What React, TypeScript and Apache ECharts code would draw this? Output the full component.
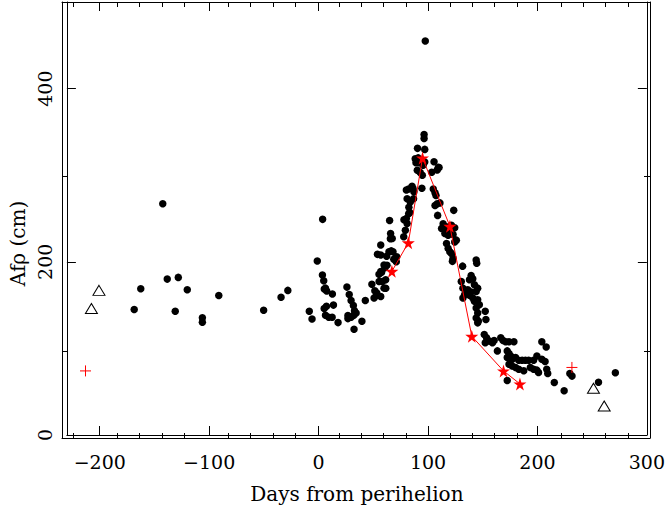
import React, { useEffect, useRef } from "react";
import * as echarts from "echarts";

// Comet photometry: Afρ (cm) vs days from perihelion
const dotPoints: [number, number][] = [
  [-168.5, 145], [-162.5, 168.8], [-142.4, 267], [-138.3, 180], [-131, 142.8], [-128.2, 182],
  [-120, 167.8], [-106.2, 135.3], [-106.2, 130.3], [-91.2, 161], [-50.2, 144], [-34.3, 159], [-28.1, 167],
  [-8.5, 142.8], [-6, 134], [-1.2, 201], [3.7, 249], [3.5, 184.8], [4.7, 178], [5.2, 168.5], [6.3, 169.6],
  [7.4, 166.2], [12.6, 162.8], [5.1, 146], [7.2, 148.6], [6.3, 138.3], [9.3, 136], [13.6, 150], [12.4, 136],
  [17.8, 129.8], [25.9, 170.8], [28, 162.2], [29.7, 155.4], [31.8, 149.6], [32.8, 143.6], [26.8, 137.9],
  [26.8, 134.4], [29.7, 136], [32.2, 138.3], [34.3, 141], [32.4, 122.2], [39.6, 131.4], [42.7, 155.3],
  [48.7, 174], [50.7, 158.2], [51.4, 166.5], [52.8, 161], [53.2, 164], [53.8, 208.6], [55.3, 177.3],
  [55.2, 185.6], [56.8, 219.3], [56.8, 207.8], [56.8, 188.8], [56.8, 160], [57.6, 188], [58.3, 177.3],
  [59.8, 196.3], [59.8, 169.6], [61.3, 179.2], [61.4, 169.5], [60.6, 193], [62.5, 196], [62.2, 206.5],
  [64.3, 211.7], [64.9, 247.7], [65.8, 232.7], [65.6, 226.7], [67.3, 227], [66.4, 212.6], [68, 211.5],
  [68.7, 203], [70.3, 204], [71.4, 205.7], [71, 200], [77.8, 228.9], [79.3, 236.5], [78, 248.5],
  [80.2, 249.9], [80.9, 244.1], [82.3, 255.6], [83.3, 257], [80.9, 272.8], [83.8, 269], [86.8, 272.8],
  [82.5, 263], [80.2, 283], [82.3, 284], [85.4, 287.3], [86.3, 284.7], [87.1, 281], [89, 314.5],
  [91.7, 314.5], [88.3, 319], [91, 320], [90.2, 305.7], [92.9, 303], [90.4, 331], [94.8, 300],
  [94.4, 285], [96.4, 347], [96.4, 342.4], [97, 329.8], [97.5, 455], [95.5, 311.5], [97, 315.3],
  [103.4, 303.4], [105.5, 315.5], [108.4, 306], [109.4, 309], [110.1, 308.8], [104.8, 284], [106.4, 279.7],
  [107.3, 276.6], [106.4, 265], [108.4, 267], [110.9, 268], [108.8, 253.6], [113.8, 244], [112.4, 238.4],
  [115.4, 238.4], [116.9, 240.3], [116.9, 234.6], [118.4, 236.5], [121.4, 242.2], [124.4, 239.2],
  [115.4, 232.7], [118.4, 230.7], [122.9, 231.5], [123.5, 259.4], [125.9, 225], [124.4, 223],
  [116.9, 221.2], [118.4, 215.5], [119.9, 211.7], [121.4, 209.7], [122.9, 204], [122.3, 200.5],
  [131.6, 195], [144, 202], [144.5, 198.3], [139.4, 184.2], [140.9, 180.3], [137.9, 179.2], [130.4, 177.3],
  [142.4, 173.4], [131.9, 169.6], [136.4, 167.7], [139.4, 165], [144, 165.8], [145.4, 169.6], [133.4, 162],
  [137.9, 161.3], [140.9, 158.2], [131.9, 158.2], [142.4, 154.4], [145.4, 156.2], [146.9, 150.5],
  [144, 146.7], [145.4, 141], [152.3, 142.9], [152.9, 133.3], [144, 135.2], [145.4, 129.5], [146, 131.5],
  [151.4, 116.1], [153.5, 112.3], [155.9, 108.5], [152.3, 106.6], [158.9, 106.6], [160.4, 109.2],
  [166.5, 112.3], [168.6, 109.2], [171, 107.7], [174, 107.7], [178.5, 107.7], [163.4, 97.1], [172.4, 97.1],
  [174, 94], [175.5, 91.3], [172.4, 89.4], [176.9, 87.5], [180, 89.4], [182.9, 86.3], [186, 86.3],
  [189, 86.3], [192, 86.3], [196.5, 86.3], [199.5, 91.3], [204, 87.5], [207, 84.8], [174, 81.7],
  [176.9, 79.8], [180, 77.9], [182.9, 76], [187.5, 74.1], [193.5, 77.9], [196.5, 76], [199.5, 74.9],
  [201, 72.2], [208.5, 76], [209.4, 71.1], [204, 107.7], [208, 101.6], [172.4, 63], [215.4, 60.7],
  [224.4, 51], [229.6, 71.1], [231.6, 68], [255.8, 61], [271.2, 71.8],
];
const starPoints: [number, number][] = [
  [67, 189], [82, 222], [95, 320], [120, 241], [140, 114], [169, 74], [184, 59],
];
const trianglePoints: [number, number][] = [
  [-207.6, 146], [-200.7, 167], [251.2, 54], [261, 33.5],
];
const plusPoints: [number, number][] = [
  [-213, 74], [231.5, 78],
];

const xMajorTicks = [-200, -100, 0, 100, 200, 300];
const xMinorTicks = [-220, -180, -160, -140, -120, -80, -60, -40, -20, 20, 40, 60, 80, 120, 140, 160, 180, 220, 240, 260, 280];
const yMajorTicks = [0, 200, 400];
const yMinorTicks = [100, 300];

const FONT = "DejaVu Serif";
const STAR = "path://M50,0 L61,35 L98,35 L68,57 L79,91 L50,70 L21,91 L32,57 L2,35 L39,35 Z";
const PLUS = "path://M0,50 L100,50 M50,0 L50,100";

const fmtNum = (v: number) => (v < 0 ? "\u2212" + Math.abs(v) : String(v));

export default function App() {
  const ref = useRef<HTMLDivElement>(null);
  useEffect(() => {
    if (!ref.current) return;
    const chart = echarts.init(ref.current, null, { renderer: "svg" });
    const gridRect = { left: 62, right: 18, top: 2, bottom: 71, containLabel: false };
    const lineStyle = { color: "#000", width: 1 };
    const xBase = (gridIndex: number, position: string, ticks: number[], len: number, labels: boolean) => ({
      type: "value",
      gridIndex,
      position,
      min: -230,
      max: 300,
      splitLine: { show: false },
      axisLine: { show: true, onZero: false, lineStyle },
      axisTick: { show: true, inside: true, length: len, customValues: ticks, lineStyle },
      axisLabel: labels
        ? { show: true, customValues: xMajorTicks, formatter: (v: number) => fmtNum(v), fontFamily: FONT, fontSize: 19, color: "#000", margin: 17 }
        : { show: false },
    });
    const yBase = (gridIndex: number, position: string, ticks: number[], len: number, labels: boolean) => ({
      type: "value",
      gridIndex,
      position,
      min: 0,
      max: 500,
      splitLine: { show: false },
      axisLine: { show: true, onZero: false, lineStyle },
      axisTick: { show: true, inside: true, length: len, customValues: ticks, lineStyle },
      axisLabel: labels
        ? { show: true, customValues: yMajorTicks, rotate: 90, fontFamily: FONT, fontSize: 19, color: "#000", margin: 12 }
        : { show: false },
    });
    const xAxes: any[] = [
      { ...xBase(0, "bottom", xMajorTicks, 9, true), name: "Days from perihelion", nameLocation: "middle", nameGap: 49, nameTextStyle: { fontFamily: FONT, fontSize: 20, color: "#000" } },
      xBase(0, "top", xMajorTicks, 9, false),
      xBase(1, "bottom", xMinorTicks, 5, false),
      xBase(1, "top", xMinorTicks, 5, false),
    ];
    const yAxes: any[] = [
      { ...yBase(0, "left", yMajorTicks, 9, true), name: "Af\u03C1 (cm)", nameLocation: "middle", nameGap: 36, nameRotate: 90, nameTextStyle: { fontFamily: FONT, fontSize: 20, color: "#000", padding: [0, 50, 0, 0] } },
      yBase(0, "right", yMajorTicks, 9, false),
      yBase(1, "left", yMinorTicks, 6, false),
      yBase(1, "right", yMinorTicks, 6, false),
    ];
    chart.setOption({
      animation: false,
      backgroundColor: "#fff",
      grid: [gridRect, gridRect],
      xAxis: xAxes,
      yAxis: yAxes,
      series: [
        {
          type: "scatter",
          xAxisIndex: 0,
          yAxisIndex: 0,
          data: dotPoints,
          symbol: "circle",
          symbolSize: 7.5,
          itemStyle: { color: "#000", opacity: 1 },
          silent: true,
        },
        {
          type: "scatter",
          xAxisIndex: 0,
          yAxisIndex: 0,
          data: trianglePoints,
          symbol: "triangle",
          symbolSize: [12, 10],
          itemStyle: { color: "rgba(255,255,255,0)", borderColor: "#000", borderWidth: 1, opacity: 1 },
          silent: true,
        },
        {
          type: "scatter",
          xAxisIndex: 0,
          yAxisIndex: 0,
          data: plusPoints,
          symbol: PLUS,
          symbolSize: 11,
          itemStyle: { color: "none", borderColor: "#ff0000", borderWidth: 1, opacity: 1 },
          silent: true,
        },
        {
          type: "line",
          xAxisIndex: 0,
          yAxisIndex: 0,
          data: starPoints,
          symbol: STAR,
          symbolSize: 13,
          showAllSymbol: true,
          lineStyle: { color: "#ff0000", width: 1 },
          itemStyle: { color: "#ff0000", opacity: 1 },
          silent: true,
        },
      ],
    });
    return () => chart.dispose();
  }, []);
  return <div ref={ref} style={{ position: "fixed", left: 0, top: 0, width: 668, height: 509 }} />;
}
